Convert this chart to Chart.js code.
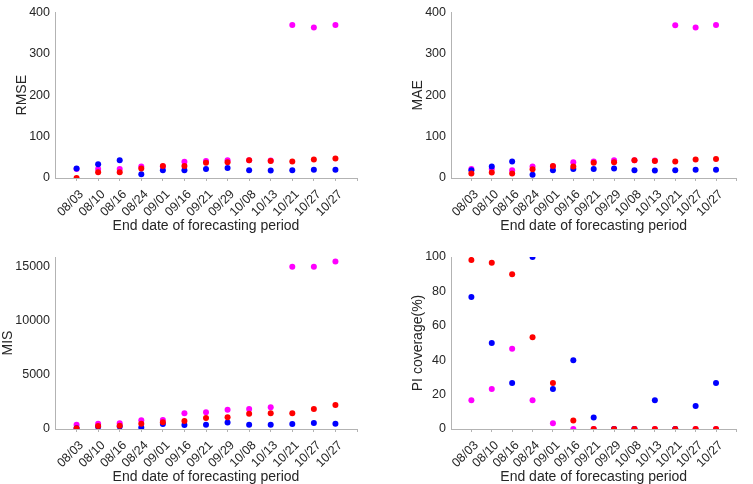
<!DOCTYPE html>
<html>
<head>
<meta charset="utf-8">
<script src="https://cdn.jsdelivr.net/npm/chart.js@4/dist/chart.umd.min.js"></script>
<style>
  html, body { margin: 0; padding: 0; background: #fff; }
  .panel { position: absolute; }
</style>
</head>
<body>
<div class="panel" style="left:0;top:0"><canvas id="rmse" width="377" height="240"></canvas></div>
<div class="panel" style="left:377px;top:0"><canvas id="mae" width="376" height="240"></canvas></div>
<div class="panel" style="left:0;top:240px"><canvas id="mis" width="377" height="244"></canvas></div>
<div class="panel" style="left:377px;top:240px"><canvas id="cov" width="376" height="244"></canvas></div>
<script>
const dates = ["08/03", "08/10", "08/16", "08/24", "09/01", "09/16", "09/21", "09/29", "10/08", "10/13", "10/21", "10/27", "10/27"];

const rmseBlue = [23, 33, 43, 9, 19, 19, 22, 24, 19, 18, 19, 20, 20];
const rmseRed = [0, 14, 14, 23, 29, 29, 37, 38, 43, 41, 40, 45, 47];
const rmseMagenta = [22, 22, 22, 28, 28, 39, 41, 43, 43, 42, 370, 364, 370];

const maeBlue = [19, 28, 40, 8, 19, 22, 22, 23, 19, 18, 19, 20, 20];
const maeRed = [11, 13, 11, 21, 29, 28, 37, 38, 43, 41, 40, 45, 46];
const maeMagenta = [22, 22, 19, 28, 28, 38, 40, 43, 43, 42, 369, 364, 370];

const misBlue = [80, 200, 230, 150, 460, 370, 400, 590, 400, 400, 460, 560, 490];
const misRed = [60, 280, 300, 490, 620, 740, 1020, 1080, 1420, 1450, 1450, 1850, 2220];
const misMagenta = [400, 490, 520, 800, 830, 1450, 1540, 1790, 1850, 2000, 15000, 15000, 15490];

const covBlue = [76.7, 50, 26.7, 100, 23.3, 40, 6.7, 0, 0, 16.7, 0, 13.3, 26.7];
const covRed = [98.3, 96.7, 90, 53.3, 26.7, 5, 0, 0, 0, 0, 0, 0, 0];
const covMagenta = [16.7, 23.3, 46.7, 16.7, 3.3, 0, 0, 0, 0, 0, 0, 0, 0];

const FONT = "'Liberation Sans', Arial, sans-serif";
const TEXT = "#262626";
const AXIS = "#b3b3b3";

function pts(values) {
  return values.map((v, i) => ({ x: i + 1, y: v }));
}

function makePanel(id, title, blue, red, magenta, yMax, yStep, area) {
  const canvas = document.getElementById(id);
  const w = canvas.width;
  const h = canvas.height;
  new Chart(canvas, {
    type: "scatter",
    data: {
      datasets: [
        { data: pts(red), backgroundColor: "#ff0000", order: 0 },
        { data: pts(blue), backgroundColor: "#0000ff", order: 1 },
        { data: pts(magenta), backgroundColor: "#ff00ff", order: 2 }
      ]
    },
    options: {
      responsive: false,
      animation: false,
      events: [],
      elements: { point: { radius: 3, borderWidth: 0, hoverRadius: 3 } },
      layout: { padding: { left: area.padLeft, top: area.top, right: w - area.right, bottom: 0 } },
      plugins: { legend: { display: false }, tooltip: { enabled: false } },
      scales: {
        x: {
          type: "linear",
          min: 0,
          max: 14,
          afterFit: (scale) => { scale.height = h - area.bottom; },
          afterBuildTicks: (scale) => {
            scale.ticks = [];
            for (let i = 1; i <= 13; i++) scale.ticks.push({ value: i });
            scale.ticks.push({ value: 14 });
          },
          border: { color: AXIS, width: 1 },
          grid: { drawOnChartArea: false, color: AXIS, tickLength: 3 },
          ticks: {
            autoSkip: false,
            minRotation: 45,
            maxRotation: 45,
            padding: 6,
            labelOffset: 5,
            color: TEXT,
            font: { family: FONT, size: 12.5 },
            callback: (v) => dates[v - 1] || ""
          },
          title: {
            display: true,
            text: "End date of forecasting period",
            color: TEXT,
            font: { family: FONT, size: 14 },
            padding: { top: 0, bottom: area.titleBottom }
          }
        },
        y: {
          min: 0,
          max: yMax,
          afterFit: (scale) => { scale.width = area.left - area.padLeft; },
          afterBuildTicks: (scale) => {
            scale.ticks = [];
            for (let v = 0; v <= yMax; v += yStep) scale.ticks.push({ value: v });
          },
          border: { color: AXIS, width: 1 },
          grid: { display: false, drawTicks: false, tickLength: 0 },
          ticks: {
            padding: 5,
            color: TEXT,
            font: { family: FONT, size: 12.5 },
            callback: (v) => String(v)
          },
          title: {
            display: true,
            text: title,
            color: TEXT,
            font: { family: FONT, size: 14 },
            padding: { top: 0, bottom: 2 }
          }
        }
      }
    }
  });
}

makePanel("rmse", "RMSE", rmseBlue, rmseRed, rmseMagenta, 400, 100,
  { left: 55, right: 357, top: 5, bottom: 178, padLeft: 14, titleBottom: 5 });
makePanel("mae", "MAE", maeBlue, maeRed, maeMagenta, 400, 100,
  { left: 74, right: 374, top: 5, bottom: 178, padLeft: 33, titleBottom: 5 });
makePanel("mis", "MIS", misBlue, misRed, misMagenta, 15900, 5000,
  { left: 55, right: 357, top: 17, bottom: 189, padLeft: 0, titleBottom: -2 });
makePanel("cov", "PI coverage(%)", covBlue, covRed, covMagenta, 100, 20,
  { left: 74, right: 374, top: 17, bottom: 189, padLeft: 33, titleBottom: -2 });
</script>
</body>
</html>
